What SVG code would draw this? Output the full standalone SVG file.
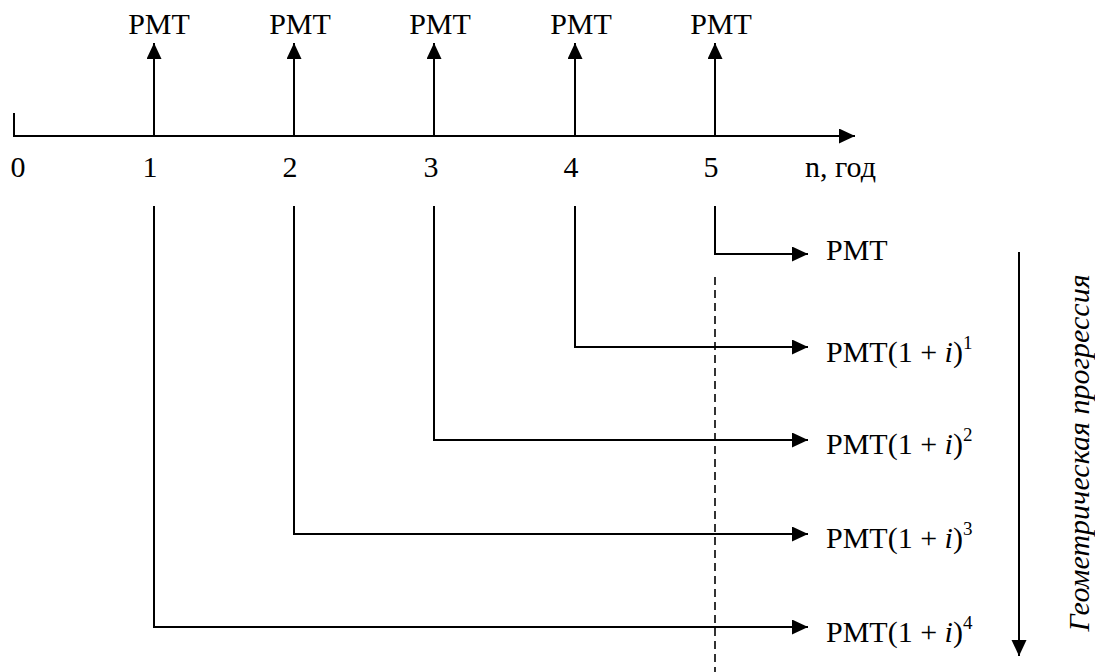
<svg xmlns="http://www.w3.org/2000/svg" width="1095" height="672" viewBox="0 0 1095 672">
  <style>
    .t { font-family: 'Liberation Serif', 'Times New Roman', serif; font-size: 30px; fill: #000; }
    .m { text-anchor: middle; }
    .sup { font-size: 19px; }
    .ln { stroke: #000; stroke-width: 2; fill: none; }
    .dash { stroke: #000; stroke-width: 1.6; stroke-dasharray: 8 5; fill: none; }
  </style>
  <defs>
    <marker id="ah" markerUnits="userSpaceOnUse" markerWidth="16" markerHeight="16" refX="16" refY="7.5" orient="auto">
      <polygon points="0,0 16,7.5 0,15" fill="#000"/>
    </marker>
  </defs>
  <rect width="1095" height="672" fill="#fff"/>

  <g id="axis">
    <polyline class="ln" points="14,113 14,136 855,136" marker-end="url(#ah)"/>
  </g>

  <g id="ticks">
    <text class="t m" x="18" y="177">0</text>
    <text class="t m" x="150" y="177">1</text>
    <text class="t m" x="290" y="177">2</text>
    <text class="t m" x="431" y="177">3</text>
    <text class="t m" x="571" y="177">4</text>
    <text class="t m" x="711" y="177">5</text>
    <text class="t" x="805" y="177">n, год</text>
  </g>

  <g id="payments">
    <g id="pmt1"><text class="t m" x="159" y="34">PMT</text></g>
    <g id="pmt2"><text class="t m" x="300" y="34">PMT</text></g>
    <g id="pmt3"><text class="t m" x="440" y="34">PMT</text></g>
    <g id="pmt4"><text class="t m" x="581" y="34">PMT</text></g>
    <g id="pmt5"><text class="t m" x="721" y="34">PMT</text></g>
  </g>

  <g id="results">
    <g id="r0"><text class="t" x="826" y="260">PMT</text></g>
    <g id="r1"><text class="t" x="826" y="362">PMT(1 + <tspan font-style="italic">i</tspan>)<tspan class="sup" dy="-13">1</tspan></text></g>
    <g id="r2"><text class="t" x="826" y="454">PMT(1 + <tspan font-style="italic">i</tspan>)<tspan class="sup" dy="-13">2</tspan></text></g>
    <g id="r3"><text class="t" x="826" y="548">PMT(1 + <tspan font-style="italic">i</tspan>)<tspan class="sup" dy="-13">3</tspan></text></g>
    <g id="r4"><text class="t" x="826" y="642">PMT(1 + <tspan font-style="italic">i</tspan>)<tspan class="sup" dy="-13">4</tspan></text></g>
  </g>

  <g id="progression-label">
    <text class="t m" font-style="italic" font-size="32" transform="translate(1089,453) rotate(-90)">Геометрическая прогрессия</text>
  </g>

  <g id="connectors">
    <line class="ln" x1="154" y1="136" x2="154" y2="43" marker-end="url(#ah)"/>
    <line class="ln" x1="294" y1="136" x2="294" y2="43" marker-end="url(#ah)"/>
    <line class="ln" x1="434" y1="136" x2="434" y2="43" marker-end="url(#ah)"/>
    <line class="ln" x1="575" y1="136" x2="575" y2="43" marker-end="url(#ah)"/>
    <line class="ln" x1="715" y1="136" x2="715" y2="43" marker-end="url(#ah)"/>

    <polyline class="ln" points="715,206 715,254 808,254" marker-end="url(#ah)"/>
    <polyline class="ln" points="575,206 575,347 808,347" marker-end="url(#ah)"/>
    <polyline class="ln" points="434,206 434,440 808,440" marker-end="url(#ah)"/>
    <polyline class="ln" points="294,206 294,534 808,534" marker-end="url(#ah)"/>
    <polyline class="ln" points="154,206 154,627 808,627" marker-end="url(#ah)"/>

    <line class="dash" x1="715" y1="277" x2="715" y2="672"/>

    <line class="ln" x1="1019" y1="252" x2="1019" y2="656" marker-end="url(#ah)"/>
  </g>
</svg>
